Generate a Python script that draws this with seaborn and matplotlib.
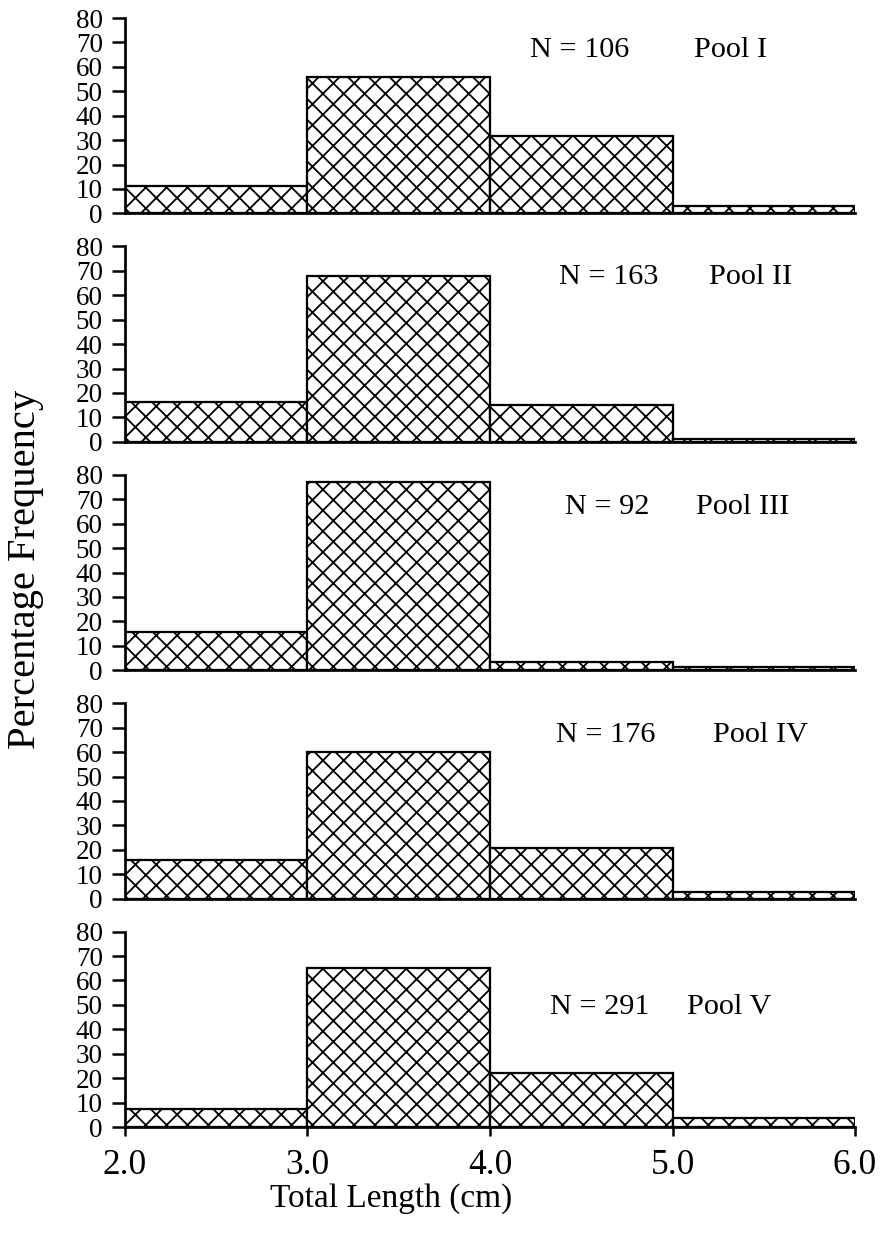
import matplotlib
matplotlib.use("Agg")
import matplotlib.pyplot as plt
import seaborn as sns
import numpy as np

# Length-class bins (cm) and percentage frequency per pool
bin_edges = [2.0, 3.0, 4.0, 5.0, 6.0]
bin_centers = [2.5, 3.5, 4.5, 5.5]

pool_names = ["Pool I", "Pool II", "Pool III", "Pool IV", "Pool V"]
sample_sizes = [106, 163, 92, 176, 291]

pool_i = [11.2, 56.0, 31.7, 2.9]
pool_ii = [16.5, 68.0, 15.0, 1.2]
pool_iii = [15.8, 77.0, 3.4, 1.5]
pool_iv = [16.0, 60.0, 20.8, 2.9]
pool_v = [7.2, 65.0, 22.0, 3.8]
pool_values = [pool_i, pool_ii, pool_iii, pool_iv, pool_v]

# annotation anchors (data coords): x of "N = ..", x of pool name, y
n_text_x = [4.22, 4.38, 4.41, 4.36, 4.33]
pool_text_x = [5.12, 5.20, 5.13, 5.22, 5.08]
text_y = [67, 67.5, 67, 67, 49]

y_ticks = list(range(0, 90, 10))
x_ticks = [2.0, 3.0, 4.0, 5.0, 6.0]
x_tick_labels = ["2.0", "3.0", "4.0", "5.0", "6.0"]

sns.set_style("ticks", {
    "axes.edgecolor": "black", "text.color": "black",
    "xtick.color": "black", "ytick.color": "black",
    "axes.labelcolor": "black",
})
plt.rcParams["font.family"] = ["Liberation Serif", "DejaVu Serif"]
plt.rcParams["hatch.linewidth"] = 1.05
plt.rcParams["hatch.color"] = "black"

DPI = 125
fig, axes = plt.subplots(
    5, 1, figsize=(882 / DPI, 1243 / DPI), dpi=DPI,
    gridspec_kw=dict(left=0.1417, right=0.9694, top=0.9855,
                     bottom=0.0933, hspace=0.169),
)

for i, ax in enumerate(axes):
    sns.histplot(
        x=bin_centers, weights=pool_values[i], bins=bin_edges, ax=ax,
        color="white", edgecolor="black", linewidth=1.3, hatch="xx",
        alpha=1.0, stat="count",
    )
    ax.set_xlim(2.0, 6.0)
    ax.set_ylim(0, 80)
    ax.set_yticks(y_ticks)
    ax.set_ylabel("")
    ax.set_xlabel("")
    for side in ("top", "right"):
        ax.spines[side].set_visible(False)
    ax.spines["left"].set_linewidth(1.56)
    ax.spines["bottom"].set_linewidth(1.56)
    ax.tick_params(axis="y", direction="out", length=7.4, width=1.44,
                   pad=5.4, labelsize=15.6)
    ax.text(n_text_x[i], text_y[i], f"N = {sample_sizes[i]}",
            ha="left", va="center", fontsize=17.4)
    ax.text(pool_text_x[i], text_y[i], pool_names[i],
            ha="left", va="center", fontsize=17.4)
    if i < 4:
        ax.set_xticks([])
    else:
        ax.set_xticks(x_ticks)
        ax.set_xticklabels(x_tick_labels)
        ax.tick_params(axis="x", direction="out", length=5.4, width=1.44,
                       pad=7.2, labelsize=20.4)

fig.text(0.029, 0.542, "Percentage Frequency", rotation=90,
         ha="center", va="center", fontsize=23.4)
fig.text(0.444, 0.036, "Total Length (cm)", ha="center", va="center",
         fontsize=19.2)

fig.savefig("out.png", dpi=DPI)
